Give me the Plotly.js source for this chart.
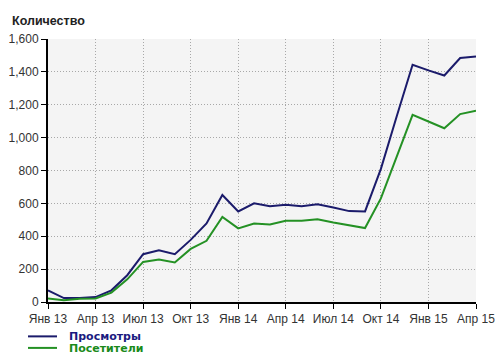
<!DOCTYPE html>
<html>
<head>
<meta charset="utf-8">
<script src="https://cdn.plot.ly/plotly-3.0.1.min.js"></script>
<style>html,body{margin:0;padding:0;background:#fff;}#chart{width:500px;height:362px;}</style>
</head>
<body>
<div id="chart"></div>
<script>
const months = ["Янв 13","Фев 13","Мар 13","Апр 13","Май 13","Июн 13","Июл 13","Авг 13","Сен 13","Окт 13","Ноя 13","Дек 13",
  "Янв 14","Фев 14","Мар 14","Апр 14","Май 14","Июн 14","Июл 14","Авг 14","Сен 14","Окт 14","Ноя 14","Дек 14",
  "Янв 15","Фев 15","Мар 15","Апр 15"];
const views = [71,24,24,30,71,163,291,315,291,378,478,651,551,600,583,592,583,594,575,553,551,810,1130,1443,1409,1378,1484,1494];
const visitors = [21,10,20,22,57,138,244,258,240,323,372,518,448,478,472,494,494,504,484,468,450,630,885,1138,1098,1057,1143,1163];
const tickLabels = ["Янв 13","Апр 13","Июл 13","Окт 13","Янв 14","Апр 14","Июл 14","Окт 14","Янв 15","Апр 15"];
const seriesNames = ["Просмотры","Посетители"];
const yTitle = "Количество";

const blue = "#1b1b6b", green = "#249124";

const traces = [
  {x: months, y: views, type: "scatter", mode: "lines", name: seriesNames[0], line: {color: blue, width: 2}},
  {x: months, y: visitors, type: "scatter", mode: "lines", name: seriesNames[1], line: {color: green, width: 2}}
];

const W = 428, H = 262.4;
function px2x(p){ return (p - 48) / W; }
function py2y(p){ return (301.7 - p) / H; }

const gridDash = "1px,2px";

const layout = {
  width: 500, height: 362,
  margin: {l: 48, r: 24, t: 39.3, b: 60.3},
  paper_bgcolor: "#ffffff",
  plot_bgcolor: "#f4f4f4",
  showlegend: false,
  font: {family: "Arial, 'Liberation Sans', sans-serif", size: 12, color: "#333"},
  title: {text: "<b>" + yTitle + "</b>", x: 12/500, xanchor: "left", xref: "container",
          y: 1 - 21/362, yanchor: "middle", yref: "container",
          font: {family: "Arial, 'Liberation Sans', sans-serif", size: 12.5, color: "#222"}},
  xaxis: {
    type: "category", range: [0, months.length - 1],
    tickmode: "array", tickvals: tickLabels, ticktext: tickLabels,
    showline: true, linecolor: "#000", linewidth: 2,
    ticks: "outside", ticklen: 5, tickcolor: "#000", tickwidth: 1,
    showgrid: true, gridcolor: "#a8a8a8", griddash: gridDash, gridwidth: 1,
    zeroline: false, tickfont: {size: 12, color: "#333"}
  },
  yaxis: {
    range: [0, 1600], tickvals: [0,200,400,600,800,1000,1200,1400,1600], tickformat: ",d",
    showline: true, linecolor: "#000", linewidth: 2,
    ticks: "outside", ticklen: 5, tickcolor: "#000", tickwidth: 1,
    showgrid: true, gridcolor: "#a8a8a8", griddash: gridDash, gridwidth: 1,
    zeroline: false, tickfont: {size: 12, color: "#333"}
  },
  shapes: [
    {type: "line", xref: "paper", yref: "paper", x0: px2x(28), x1: px2x(57), y0: py2y(336), y1: py2y(336), line: {color: blue, width: 2}},
    {type: "line", xref: "paper", yref: "paper", x0: px2x(28), x1: px2x(57), y0: py2y(347.5), y1: py2y(347.5), line: {color: green, width: 2}}
  ],
  annotations: [
    {xref: "paper", yref: "paper", x: px2x(67), y: py2y(336), xanchor: "left", yanchor: "middle", showarrow: false,
     text: "<b>" + seriesNames[0] + "</b>", font: {family: "'DejaVu Sans', Verdana, sans-serif", size: 11, color: "#1a1a80"}},
    {xref: "paper", yref: "paper", x: px2x(67), y: py2y(348), xanchor: "left", yanchor: "middle", showarrow: false,
     text: "<b>" + seriesNames[1] + "</b>", font: {family: "'DejaVu Sans', Verdana, sans-serif", size: 11, color: "#1a8a1a"}}
  ]
};

Plotly.newPlot("chart", traces, layout, {displayModeBar: false, staticPlot: true});
</script>
</body>
</html>
